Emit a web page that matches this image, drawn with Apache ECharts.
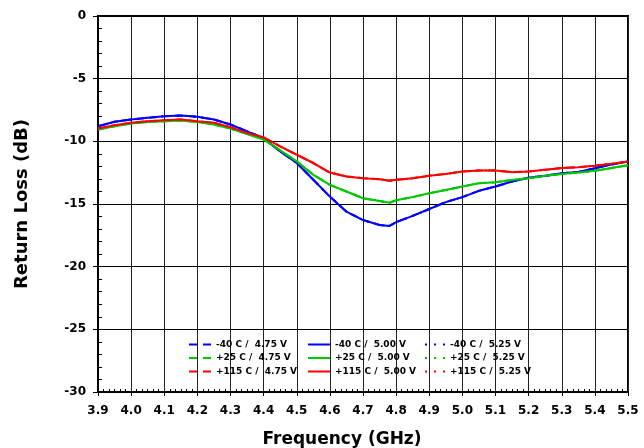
<!DOCTYPE html>
<html><head><meta charset="utf-8">
<script src="https://cdn.jsdelivr.net/npm/echarts@6/dist/echarts.min.js"></script>
<style>html,body{margin:0;padding:0;background:#fff}#c{width:644px;height:448px}</style>
</head><body><div id="c"></div>
<script>
// Frequency points (GHz)
const freq = [3.90,3.95,4.00,4.05,4.10,4.15,4.20,4.25,4.30,4.35,4.40,4.45,4.50,4.55,4.60,4.65,4.70,4.75,4.78,4.80,4.85,4.90,4.95,5.00,5.05,5.10,5.15,5.20,5.25,5.30,5.35,5.40,5.45,5.50];
// Return loss (dB), -40 C
const rlM40 = [-8.80,-8.44,-8.26,-8.12,-8.00,-7.94,-8.04,-8.26,-8.66,-9.20,-9.75,-10.80,-11.73,-13.07,-14.41,-15.61,-16.28,-16.68,-16.75,-16.45,-15.95,-15.40,-14.85,-14.45,-13.95,-13.60,-13.20,-12.90,-12.75,-12.55,-12.45,-12.15,-11.85,-11.60];
// Return loss (dB), +25 C
const rlP25 = [-9.06,-8.80,-8.58,-8.45,-8.40,-8.34,-8.45,-8.66,-8.98,-9.41,-9.85,-10.72,-11.60,-12.67,-13.47,-14.00,-14.54,-14.76,-14.90,-14.70,-14.45,-14.14,-13.88,-13.61,-13.34,-13.26,-13.08,-12.94,-12.75,-12.60,-12.49,-12.35,-12.13,-11.90];
// Return loss (dB), +115 C
const rlP115 = [-8.98,-8.72,-8.52,-8.40,-8.32,-8.26,-8.40,-8.52,-8.88,-9.33,-9.68,-10.40,-11.07,-11.73,-12.49,-12.80,-12.94,-13.02,-13.15,-13.07,-12.94,-12.75,-12.60,-12.41,-12.33,-12.33,-12.46,-12.41,-12.27,-12.13,-12.06,-11.95,-11.79,-11.62];

const temps = ['-40 C', '+25 C', '+115 C'];
const volts = ['4.75 V', '5.00 V', '5.25 V'];
const tempData = [rlM40, rlP25, rlP115];
const colors = ['#0000ff', '#00c800', '#ff0000'];
const lineTypes = [[8,5], 'solid', [2,6]];
const legendIcons = [
  'path://M0,0h8v2h-8zM14,0h8v2h-8z',
  'path://M0,0h22v2h-22z',
  'path://M0,0h2v2h-2zM9,0h2v2h-2zM18,0h2v2h-2z'
];

const xMin = 3.9, xMax = 5.5, xStep = 0.1;
const yMin = -30, yMax = 0, yStep = 5;

const FONT = 'DejaVu Sans';
const names = (t, v) => temps[t] + ' /  ' + volts[v];

const series = [];
// draw dashed, dotted, then solid on top
[0, 2, 1].forEach(v => {
  temps.forEach((tn, t) => {
    series.push({
      name: names(t, v),
      type: 'line',
      xAxisIndex: 0, yAxisIndex: 0,
      symbol: 'none',
      animation: false,
      data: freq.map((f, i) => [f, tempData[t][i]]),
      lineStyle: { color: colors[t], width: 2, type: lineTypes[v] },
      itemStyle: { color: colors[t] }
    });
  });
});

const legends = volts.map((vn, v) => ({
  orient: 'vertical',
  left: [189, 308, 425][v],
  top: 340,
  padding: 0,
  itemWidth: [22, 22, 20][v],
  itemHeight: 8,
  itemGap: 4.5,
  symbolKeepAspect: true,
  selectedMode: false,
  textStyle: { fontFamily: FONT, fontWeight: 'bold', fontSize: 9, color: '#000' },
  data: temps.map((tn, t) => ({ name: names(t, v), icon: legendIcons[v], itemStyle: { color: colors[t] } }))
}));

const axisBase = {
  type: 'value', min: xMin, max: xMax, interval: xStep,
  position: 'bottom'
};

const option = {
  backgroundColor: '#fff',
  animation: false,
  grid: { left: 98, right: 16, top: 16, bottom: 56, show: true, borderColor: '#000', borderWidth: 2, backgroundColor: 'transparent' },
  legend: legends,
  xAxis: [
    Object.assign({}, axisBase, {
      axisLine: { onZero: false, lineStyle: { color: '#000', width: 2 } },
      axisTick: { show: true, inside: false, length: 4, lineStyle: { color: '#000', width: 1 } },
      axisLabel: { margin: 13, fontFamily: FONT, fontWeight: 'bold', fontSize: 12, color: '#000', formatter: v => v.toFixed(1) },
      splitLine: { show: true, lineStyle: { color: '#222', width: 1 } }
    }),
    Object.assign({}, axisBase, {
      axisLine: { show: false, onZero: false },
      axisTick: { show: false, inside: true },
      axisLabel: { show: false },
      splitLine: { show: false },
      minorTick: { show: true, splitNumber: 6, length: 3, lineStyle: { color: '#000', width: 1 } }
    })
  ],
  yAxis: [
    {
      type: 'value', min: yMin, max: yMax, interval: yStep, position: 'left',
      axisLine: { onZero: false, lineStyle: { color: '#000', width: 2 } },
      axisTick: { show: true, inside: false, length: 5, lineStyle: { color: '#000', width: 1 } },
      axisLabel: { margin: 12, fontFamily: FONT, fontWeight: 'bold', fontSize: 12, color: '#000' },
      splitLine: { show: true, lineStyle: { color: '#000', width: 1 } },
      name: 'Return Loss (dB)', nameLocation: 'middle', nameGap: 67, nameRotate: 90,
      nameTextStyle: { fontFamily: FONT, fontWeight: 'bold', fontSize: 18, color: '#000' }
    },
    {
      type: 'value', min: yMin, max: yMax, interval: yStep, position: 'left',
      axisLine: { show: false, onZero: false },
      axisTick: { show: false, inside: true },
      axisLabel: { show: false },
      splitLine: { show: false },
      minorTick: { show: true, splitNumber: 5, length: 4, lineStyle: { color: '#000', width: 1 } }
    }
  ],
  graphic: [{
    type: 'text', x: 342, y: 440,
    style: { text: 'Frequency (GHz)', fontFamily: FONT, fontWeight: 'bold', fontSize: 17, fill: '#000', textAlign: 'center', textVerticalAlign: 'middle' }
  }],
  series: series
};

const chart = echarts.init(document.getElementById('c'), null, { renderer: 'canvas' });
chart.setOption(option);
</script>
</body></html>
